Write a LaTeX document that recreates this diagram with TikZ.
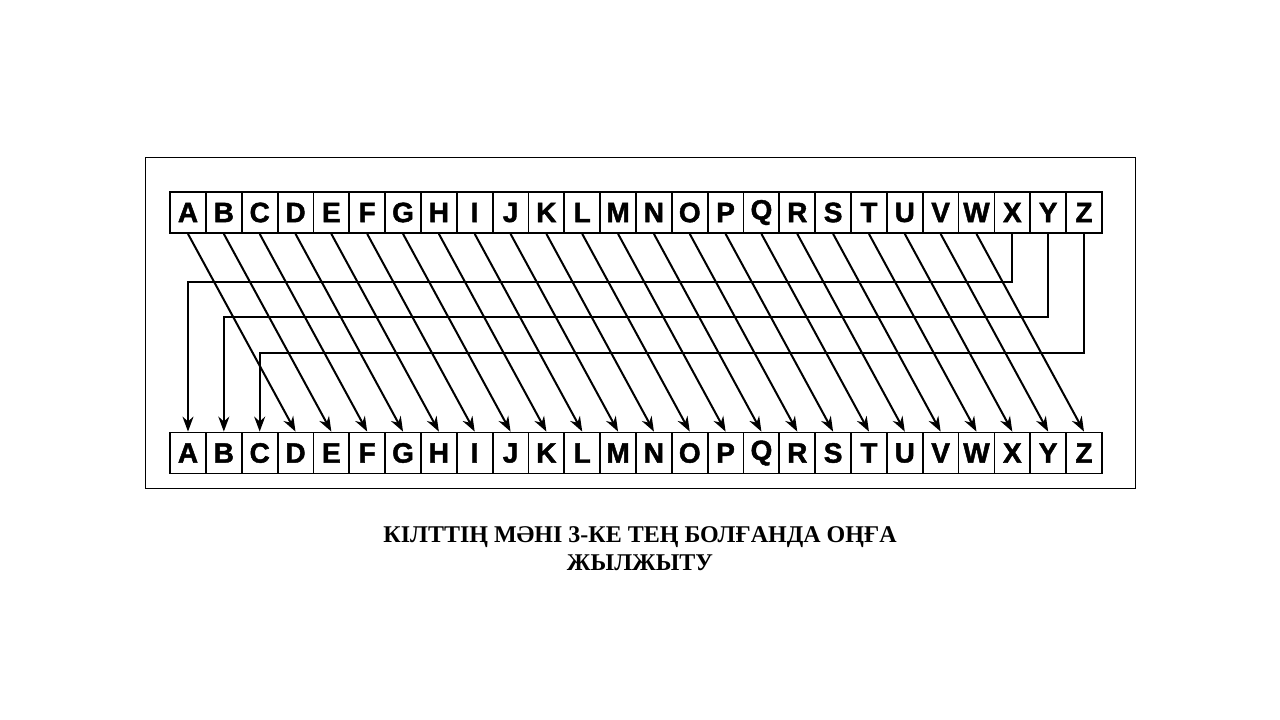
\documentclass[tikz,border=0pt]{standalone}
\usepackage{fontspec}
\newfontfamily\boxfont[BoldFont={Liberation Sans Bold}, BoldFeatures={FakeBold=1.6}]{Liberation Sans}
\newfontfamily\captionfont{Liberation Serif}
\usetikzlibrary{arrows.meta}

\tikzstyle{letter}=[draw=black, line width=1.8pt, minimum width=35.84pt, minimum height=41pt, inner sep=0pt, font={\fontsize{28}{28}\selectfont\boxfont\bfseries}]
\tikzstyle{shiftline}=[line width=2pt, -{Stealth[length=15pt,width=11pt]}]
\tikzstyle{caption}=[align=center, font={\captionfont\bfseries\fontsize{24}{28}\selectfont}]

\begin{document}
\begin{tikzpicture}[x=1pt,y=-1pt]
    \useasboundingbox (0,0) rectangle (1280,720);
    \draw [line width=0.8pt] (145,157) rectangle (1135,488);
    % plain and shifted alphabets
    \foreach \l [count=\i] in {A,B,...,Z} {
        \node [letter] (t\i) at ({188+35.84*(\i-1)},212.5) {\l};
        \node [letter] (b\i) at ({188+35.84*(\i-1)},453) {\l};
    }
    \foreach \i [evaluate=\i as \j using int(\i+3)] in {1,...,23}
        \draw [shiftline] (t\i.south) -- (b\j.north);
    % X, Y, Z wrap round to A, B, C
    \draw [shiftline] (t24.south) -- (t24.south |- 0,282) -| (b1.north);
    \draw [shiftline] (t25.south) -- (t25.south |- 0,317) -| (b2.north);
    \draw [shiftline] (t26.south) -- (t26.south |- 0,353) -| (b3.north);
    \node [caption] (title) at (640,549) {КІЛТТІҢ МӘНІ 3-КЕ ТЕҢ БОЛҒАНДА ОҢҒА\\ЖЫЛЖЫТУ};
\end{tikzpicture}
\end{document}
